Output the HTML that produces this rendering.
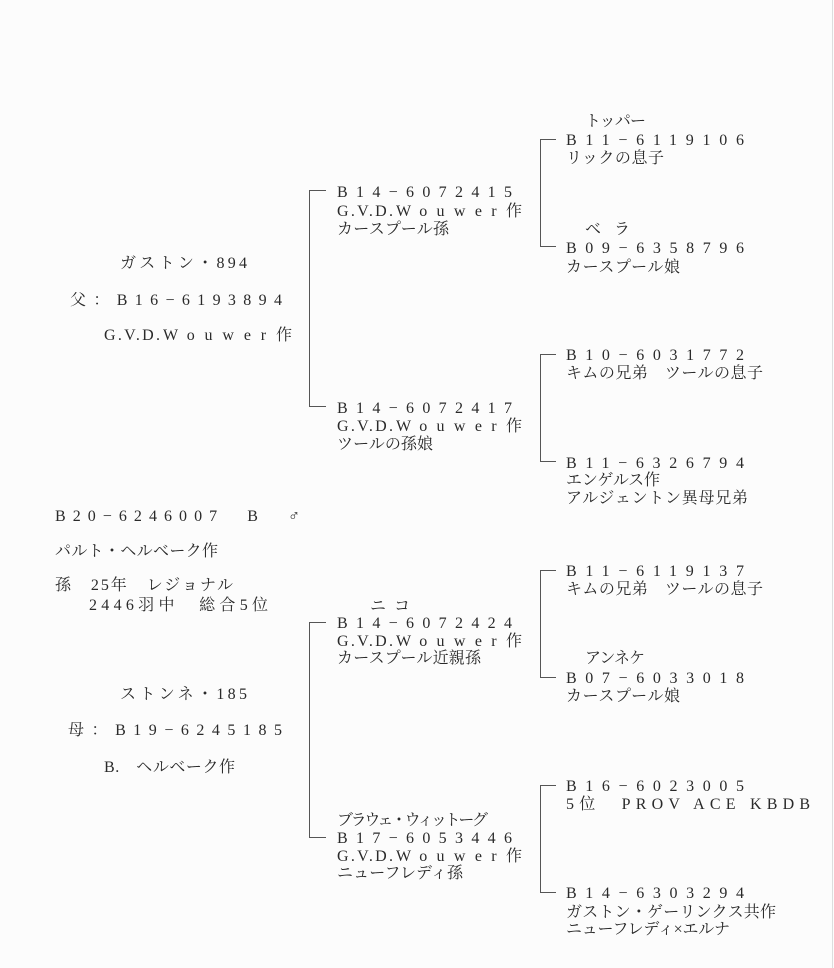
<!DOCTYPE html>
<html><head><meta charset="utf-8"><style>
html,body{margin:0;padding:0;background:#fcfcfc;}
svg{display:block}
text{font-family:"Liberation Serif","Noto Serif CJK SC","Noto Sans CJK JP",serif;font-size:16px;fill:#2a2a2a}
</style></head><body>
<svg width="834" height="968" viewBox="0 0 834 968" xmlns="http://www.w3.org/2000/svg">
<rect width="834" height="968" fill="#fcfcfc"/>
<line x1="832.5" y1="0" x2="832.5" y2="968" stroke="#ddd" stroke-width="1"/>
<g stroke="#555" stroke-width="1" fill="none">
<polyline points="326,190.5 309.5,190.5 309.5,406.5 326,406.5"/>
<polyline points="326,622.5 309.5,622.5 309.5,837.5 326,837.5"/>
<polyline points="556,139.5 540.5,139.5 540.5,246.5 556,246.5"/>
<polyline points="556,354.5 540.5,354.5 540.5,461.5 556,461.5"/>
<polyline points="556,570.5 540.5,570.5 540.5,677.5 556,677.5"/>
<polyline points="556,785.5 540.5,785.5 540.5,892.5 556,892.5"/>
</g>
<!-- left -->
<text x="120" y="268" textLength="127" lengthAdjust="spacing">ガストン・894</text>
<text x="70" y="305" textLength="212" lengthAdjust="spacing">父：B16−6193894</text>
<text x="104" y="340" textLength="56" lengthAdjust="spacing">G.V.D.</text>
<text x="163" y="340" textLength="129" lengthAdjust="spacing">Wouwer作</text>
<text x="55" y="521" textLength="245" lengthAdjust="spacing">B20−6246007　B　♂</text>
<text x="55" y="556" textLength="163" lengthAdjust="spacing">パルト・ヘルベーク作</text>
<text x="55" y="590" textLength="178" lengthAdjust="spacing">孫　25年　レジョナル</text>
<text x="89" y="610" textLength="179" lengthAdjust="spacing">2446羽中　総合5位</text>
<text x="120" y="699" textLength="127" lengthAdjust="spacing">ストンネ・185</text>
<text x="68" y="735" textLength="214" lengthAdjust="spacing">母：B19−6245185</text>
<text x="104" y="772" textLength="131" lengthAdjust="spacing">B.　ヘルベーク作</text>
<!-- gen2 -->
<text x="337" y="197" textLength="175" lengthAdjust="spacing">B14−6072415</text>
<text x="337" y="216" textLength="56" lengthAdjust="spacing">G.V.D.</text>
<text x="396" y="216" textLength="126" lengthAdjust="spacing">Wouwer作</text>
<text x="337" y="234" textLength="112" lengthAdjust="spacing">カースプール孫</text>
<text x="337" y="413" textLength="175" lengthAdjust="spacing">B14−6072417</text>
<text x="337" y="431" textLength="56" lengthAdjust="spacing">G.V.D.</text>
<text x="396" y="431" textLength="126" lengthAdjust="spacing">Wouwer作</text>
<text x="337" y="449" textLength="96" lengthAdjust="spacing">ツールの孫娘</text>
<text x="370" y="611" textLength="40" lengthAdjust="spacing">ニ　コ</text>
<text x="337" y="628" textLength="175" lengthAdjust="spacing">B14−6072424</text>
<text x="337" y="646" textLength="56" lengthAdjust="spacing">G.V.D.</text>
<text x="396" y="646" textLength="126" lengthAdjust="spacing">Wouwer作</text>
<text x="337" y="663" textLength="144" lengthAdjust="spacing">カースプール近親孫</text>
<text x="337" y="825" textLength="151" lengthAdjust="spacing">ブラウェ・ウィットーグ</text>
<text x="337" y="843" textLength="175" lengthAdjust="spacing">B17−6053446</text>
<text x="337" y="861" textLength="56" lengthAdjust="spacing">G.V.D.</text>
<text x="396" y="861" textLength="126" lengthAdjust="spacing">Wouwer作</text>
<text x="337" y="878" textLength="126" lengthAdjust="spacing">ニューフレディ孫</text>
<!-- gen3 -->
<text x="585" y="126" textLength="61" lengthAdjust="spacing">トッパー</text>
<text x="566" y="145" textLength="178" lengthAdjust="spacing">B11−6119106</text>
<text x="566" y="163" textLength="98" lengthAdjust="spacing">リックの息子</text>
<text x="585" y="234" textLength="45" lengthAdjust="spacing">ベ　ラ</text>
<text x="566" y="253" textLength="178" lengthAdjust="spacing">B09−6358796</text>
<text x="566" y="272" textLength="114" lengthAdjust="spacing">カースプール娘</text>
<text x="566" y="360" textLength="178" lengthAdjust="spacing">B10−6031772</text>
<text x="566" y="378" textLength="197" lengthAdjust="spacing">キムの兄弟　ツールの息子</text>
<text x="566" y="468" textLength="178" lengthAdjust="spacing">B11−6326794</text>
<text x="566" y="485" textLength="94" lengthAdjust="spacing">エンゲルス作</text>
<text x="566" y="503" textLength="182" lengthAdjust="spacing">アルジェントン異母兄弟</text>
<text x="566" y="576" textLength="178" lengthAdjust="spacing">B11−6119137</text>
<text x="566" y="594" textLength="197" lengthAdjust="spacing">キムの兄弟　ツールの息子</text>
<text x="585" y="663" textLength="60" lengthAdjust="spacing">アンネケ</text>
<text x="566" y="683" textLength="178" lengthAdjust="spacing">B07−6033018</text>
<text x="566" y="701" textLength="114" lengthAdjust="spacing">カースプール娘</text>
<text x="566" y="791" textLength="178" lengthAdjust="spacing">B16−6023005</text>
<text x="566" y="809" textLength="244" lengthAdjust="spacing">5位　PROV ACE KBDB</text>
<text x="566" y="898" textLength="178" lengthAdjust="spacing">B14−6303294</text>
<text x="566" y="917" textLength="210" lengthAdjust="spacing">ガストン・ゲーリンクス共作</text>
<text x="566" y="934" textLength="164" lengthAdjust="spacing">ニューフレディ×エルナ</text>
</svg>
</body></html>
